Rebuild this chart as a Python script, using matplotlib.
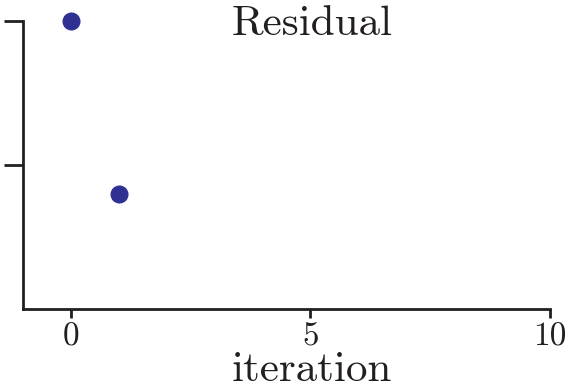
import matplotlib
matplotlib.use("Agg")
import matplotlib.pyplot as plt

plt.rcParams["font.family"] = "cmr10"
plt.rcParams["axes.formatter.use_mathtext"] = True

iterations = [0, 1]
residuals = [1.0, 0.063]
xticks = [0, 5, 10]
yticks = [0.1, 1.0]

ink = "#231f20"
dot = "#2e3192"

W, H = 583, 385
fig = plt.figure(figsize=(W / 100, H / 100), dpi=100)
ax = fig.add_axes([23 / W, 76 / H, 527 / W, 309 / H])

ax.plot(iterations, residuals, "o", color=dot, markersize=12, clip_on=False)

ax.set_yscale("log")
ax.set_ylim(1e-2, 10 ** 0.1458)
ax.set_xlim(-1, 10)
ax.set_yticks(yticks)
ax.set_yticklabels([])
ax.minorticks_off()
ax.set_xticks(xticks)
ax.set_xticklabels([str(t) for t in xticks])

for side in ("top", "right"):
    ax.spines[side].set_visible(False)
for side in ("left", "bottom"):
    ax.spines[side].set_linewidth(2.0)
    ax.spines[side].set_color(ink)
ax.spines["left"].set_bounds(1e-2, 1.0)

ax.tick_params(axis="y", length=13.7, width=2.0, color=ink, direction="out")
ax.tick_params(axis="x", length=6.5, width=2.0, color=ink, direction="out",
               labelsize=24, labelcolor=ink, pad=3.5)

fig.text(312 / W, 1 - 35 / H, "Residual", fontsize=31, color=ink,
         ha="center", va="baseline")
fig.text(312 / W, 1 - 381 / H, "iteration", fontsize=31, color=ink,
         ha="center", va="baseline")

fig.savefig("out.png", dpi=100)
